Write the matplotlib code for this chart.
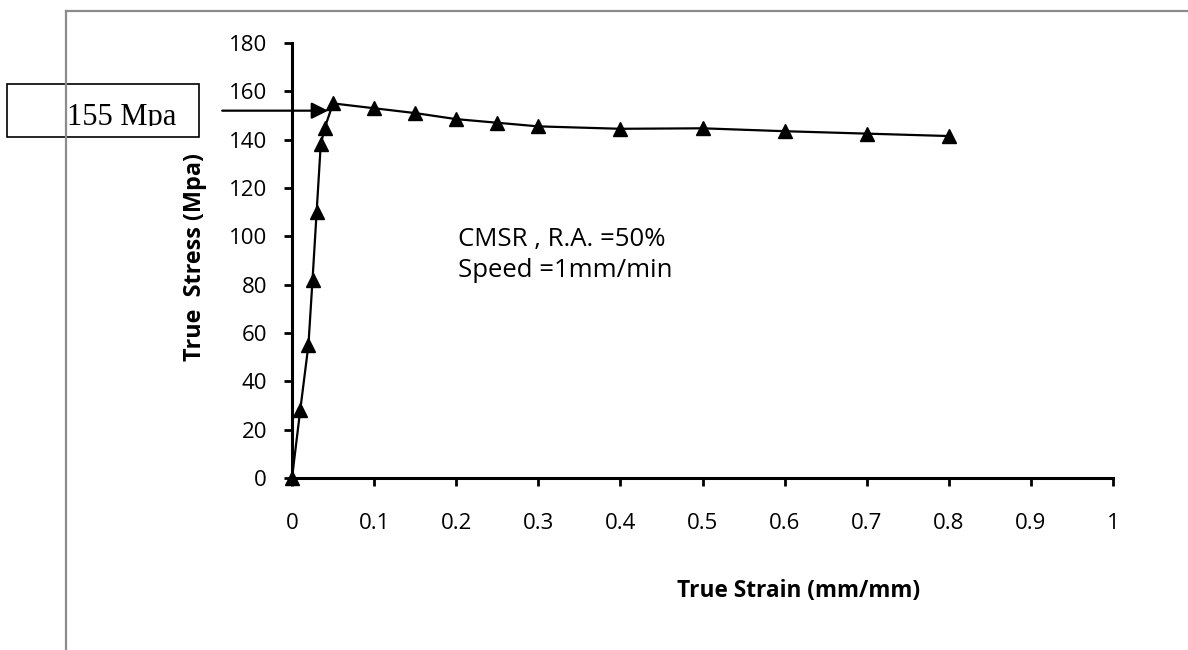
import matplotlib
import matplotlib.pyplot as plt
from matplotlib.lines import Line2D
from matplotlib.patches import Rectangle

matplotlib.use("Agg")

# True stress-strain data for the CMSR sample
strain = [0, 0.01, 0.02, 0.025, 0.03, 0.035, 0.04, 0.05, 0.1, 0.15, 0.2,
          0.25, 0.3, 0.4, 0.5, 0.6, 0.7, 0.8]
stress = [0, 28, 55, 82, 110, 138, 145, 155, 153, 151, 148.5,
          147, 145.5, 144.5, 144.7, 143.5, 142.5, 141.5]

x_ticks = [0, 0.1, 0.2, 0.3, 0.4, 0.5, 0.6, 0.7, 0.8, 0.9, 1]
x_tick_labels = ["0", "0.1", "0.2", "0.3", "0.4", "0.5", "0.6", "0.7",
                 "0.8", "0.9", "1"]
y_ticks = [0, 20, 40, 60, 80, 100, 120, 140, 160, 180]

peak_label = "155 Mpa"
peak_stress = 152
note_text = "CMSR , R.A. =50%\nSpeed =1mm/min"

W, H = 1188, 650


def fx(px):
    """Pixel column to figure fraction."""
    return px / W


def fy(py):
    """Pixel row (from top) to figure fraction."""
    return 1 - py / H


plt.rcParams["font.family"] = ["Open Sans", "DejaVu Sans"]

fig = plt.figure(figsize=(W / 100, H / 100), dpi=100)
ax = fig.add_axes([fx(292), fy(478), fx(1113) - fx(292), fy(43) - fy(478)])

# Stress-strain curve with triangle markers
ax.plot(strain, stress, color="black", lw=1.6, marker="^", ms=9.5,
        markerfacecolor="black", markeredgecolor="black", clip_on=False,
        zorder=5)

ax.set_xlim(0, 1)
ax.set_ylim(0, 180)
ax.set_xticks(x_ticks)
ax.set_xticklabels(x_tick_labels)
ax.set_yticks(y_ticks)

for side in ("top", "right"):
    ax.spines[side].set_visible(False)
for side in ("left", "bottom"):
    ax.spines[side].set_linewidth(2.2)
    ax.spines[side].set_color("black")

ax.tick_params(axis="y", direction="out", length=6, width=2, pad=12,
               labelsize=16, colors="black")
ax.tick_params(axis="x", direction="out", length=6, width=2, pad=19,
               labelsize=16, colors="black")

# Axis titles
fig.text(fx(799), fy(591), "True Strain (mm/mm)", ha="center", va="center",
         fontsize=16.3, fontweight="bold")
fig.text(fx(195), fy(257), "True  Stress (Mpa)", ha="center", va="center",
         rotation=90, fontsize=16.8, fontweight="bold")

# Test condition note
fig.text(fx(458), fy(255), note_text, ha="left", va="center",
         fontsize=18.5, linespacing=1.3)

# Arrow pointing at the peak stress
ax.annotate("", xy=(0.044, peak_stress), xytext=(-0.085, peak_stress),
            xycoords="data", textcoords="data", annotation_clip=False,
            arrowprops=dict(arrowstyle="-|>", color="black", lw=1.6,
                            mutation_scale=25, shrinkA=0, shrinkB=0))

# Outer gray frame (top and left edges only)
fig.add_artist(Line2D([fx(66), fx(1188)], [fy(11), fy(11)],
                      color="#8c8c8c", lw=1.6, transform=fig.transFigure))
fig.add_artist(Line2D([fx(66), fx(66)], [fy(11), fy(650)],
                      color="#8c8c8c", lw=1.6, transform=fig.transFigure))

# Label box for the peak value
box = Rectangle((fx(7), fy(137)), fx(199) - fx(7), fy(84) - fy(137),
                transform=fig.transFigure, fill=False, edgecolor="black",
                lw=1.2)
fig.add_artist(box)
clip = Rectangle((fx(7), fy(126)), fx(199) - fx(7), fy(84) - fy(126),
                 transform=fig.transFigure, fill=False, visible=False)
fig.add_artist(clip)
peak_txt = fig.text(fx(67), fy(125), peak_label, ha="left", va="baseline",
                    fontsize=22, family="Liberation Serif")
peak_txt.set_clip_path(clip)

fig.savefig("out.png", dpi=100, facecolor="white")
